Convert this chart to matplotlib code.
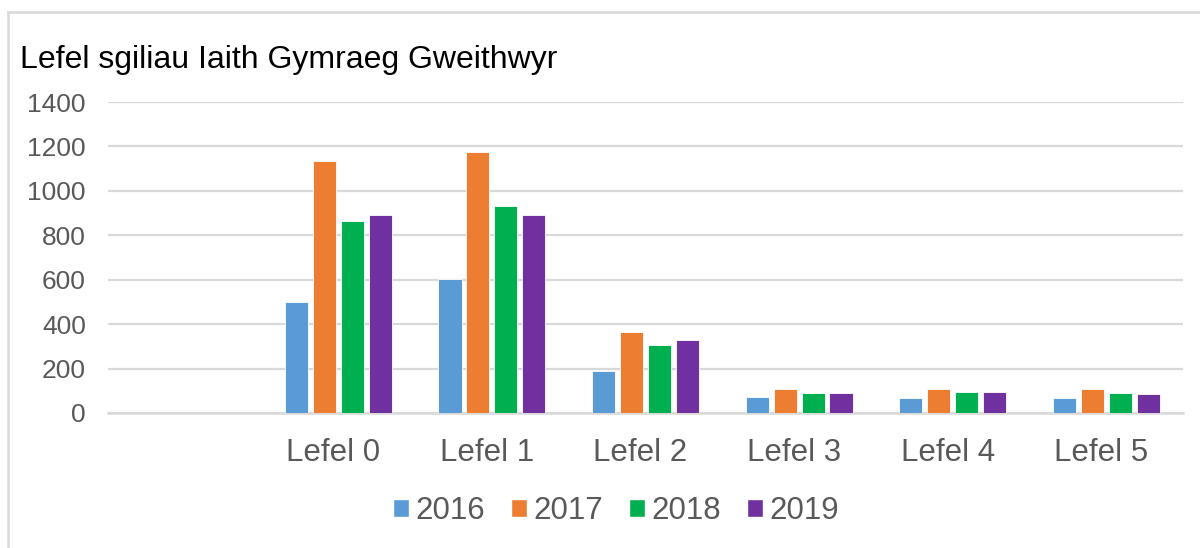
import matplotlib
matplotlib.use("Agg")
import matplotlib.pyplot as plt
import matplotlib.transforms as mtransforms
import numpy as np
from matplotlib.lines import Line2D
from matplotlib.patches import Patch

categories = ["", "Lefel 0", "Lefel 1", "Lefel 2", "Lefel 3", "Lefel 4", "Lefel 5"]
years = ["2016", "2017", "2018", "2019"]
v2016 = [None, 500, 605, 189, 71, 67, 67]
v2017 = [None, 1135, 1176, 363, 108, 108, 108]
v2018 = [None, 864, 933, 305, 89, 95, 89]
v2019 = [None, 892, 892, 328, 89, 95, 85]
colors = ["#5B9BD5", "#ED7D31", "#00B050", "#7030A0"]
title = "Lefel sgiliau Iaith Gymraeg Gweithwyr"

plt.rcParams['font.family'] = ['Liberation Sans', 'DejaVu Sans']

fig = plt.figure(figsize=(12, 5.48), dpi=100)
ax = fig.add_axes([108/1200, 1-413/548, (1183-108)/1200, (413-102)/548])

series = [v2016, v2017, v2018, v2019]
x = np.arange(len(categories))
bw = 0.15
step = 0.182
for i, (vals, c) in enumerate(zip(series, colors)):
    xs = [xi + (i - 1.5) * step for xi, v in zip(x, vals) if v is not None]
    ys = [v for v in vals if v is not None]
    ax.bar(xs, ys, width=bw, color=c, edgecolor="white", linewidth=0.6, zorder=3)

ax.set_xlim(-0.5, len(categories) - 0.5)
ax.set_ylim(0, 1400)
ax.set_yticks(np.arange(0, 1401, 200))
ax.set_xticks(x)
ax.set_xticklabels(categories)
ax.grid(axis="y", color="#d9d9d9", linewidth=1.6, zorder=0)
ax.set_axisbelow(True)
for s in ["top", "right", "left"]:
    ax.spines[s].set_visible(False)
ax.spines["bottom"].set_color("#d9d9d9")
ax.spines["bottom"].set_linewidth(1.8)
ax.tick_params(axis="y", length=0, pad=16, labelsize=19, labelcolor="#595959")
ax.tick_params(axis="x", length=0, pad=18, labelsize=22.5, labelcolor="#595959")
offset = mtransforms.ScaledTranslation(-5/100, 0, fig.dpi_scale_trans)
for lbl in ax.get_xticklabels():
    lbl.set_transform(lbl.get_transform() + offset)

fig.text(20/1200, 1-68/548, title, fontsize=23, color="#000000", ha="left", va="baseline")

handles = [Patch(facecolor=c, edgecolor="white") for c in colors]
leg = fig.legend(handles, years, loc="center", bbox_to_anchor=(616/1200, 1-511/548),
                 ncol=4, frameon=False, fontsize=22.5, handlelength=0.52, handleheight=0.52,
                 handletextpad=0.2, columnspacing=0.83, labelcolor="#595959")

fig.add_artist(Line2D([8/1200, 8/1200], [0, 1-12/548], color="#d9d9d9", linewidth=1.8))
fig.add_artist(Line2D([8/1200, 1], [1-12/548, 1-12/548], color="#d9d9d9", linewidth=1.8))

fig.savefig("out.png", dpi=100)
